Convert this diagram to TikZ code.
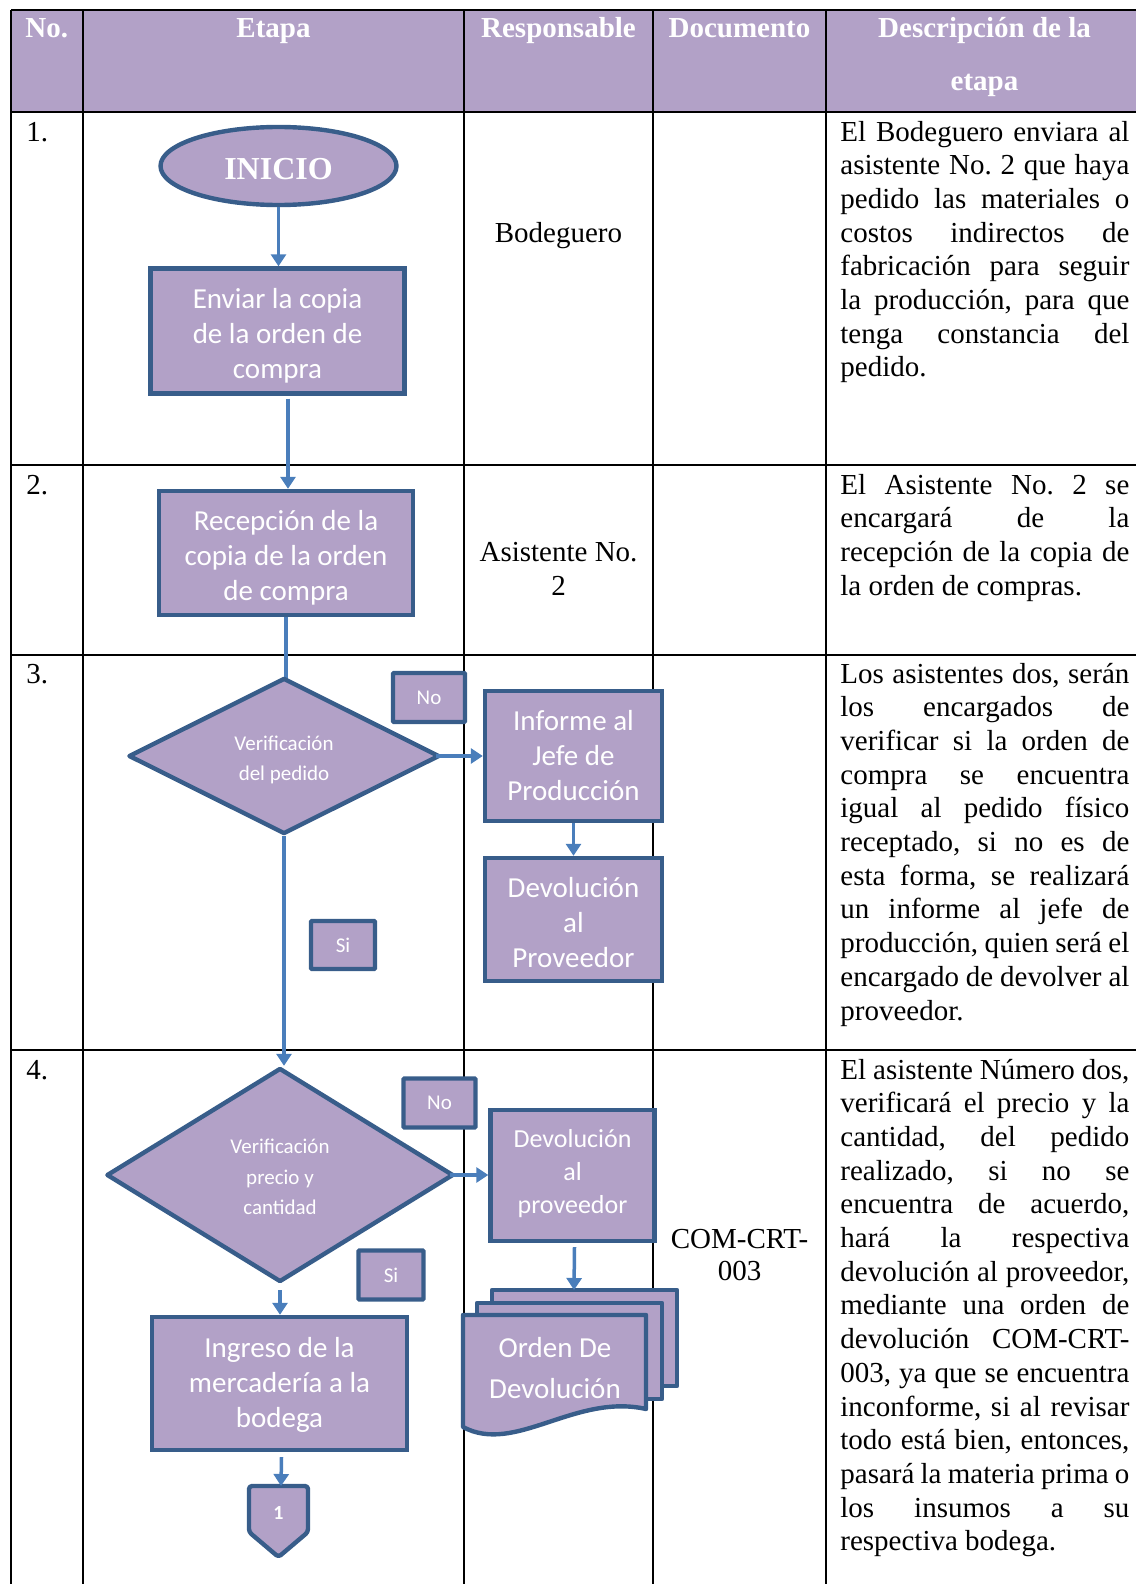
\documentclass[tikz,border=0pt]{standalone}
\usepackage{fontspec}
\setmainfont{Liberation Serif}
\newfontfamily\flowfont{Carlito}
\usetikzlibrary{shapes.geometric,arrows.meta}
\definecolor{shfill}{HTML}{B2A1C7}
\definecolor{shdraw}{HTML}{385D8A}
\definecolor{arrc}{HTML}{4A7EBB}
\newlength\dw \setlength\dw{144.5pt}
\newcommand\jl[1]{\hbox to \dw{#1}}
\newcommand\lastl[1]{\hbox{#1}}
\frenchspacing
\tikzset{
 gridln/.style={line width=1pt, black},
 hdr/.style={font=\bfseries\fontsize{14.5pt}{17pt}\selectfont, text=white, inner sep=0},
 body/.style={font=\fontsize{14.5pt}{16.85pt}\selectfont, inner sep=0},
 proc/.style={draw=shdraw, fill=shfill, line width=2.2pt, text=white, font=\flowfont\fontsize{14.5pt}{17.5pt}\selectfont, align=center, inner sep=0},
 lab/.style={proc, font=\flowfont\fontsize{10.5pt}{12pt}\selectfont, rounded corners=0.5pt},
 dec/.style={diamond, draw=shdraw, fill=shfill, line width=2.2pt, line join=round, text=white, font=\flowfont\fontsize{10.5pt}{15.25pt}\selectfont, align=center, inner sep=0},
 docsh/.style={draw=shdraw, fill=shfill, line width=2.2pt, line join=round},
 flowtxt/.style={text=white, font=\flowfont\fontsize{14.5pt}{17.5pt}\selectfont, align=center, inner sep=0},
 dectxt/.style={text=white, font=\flowfont\fontsize{10.5pt}{15.25pt}\selectfont, align=center, inner sep=0},
 arr/.style={draw=arrc, line width=1.75pt, -{Triangle[length=6pt,width=7.5pt]}},
 plainln/.style={draw=arrc, line width=1.75pt},
}
\begin{document}
\begin{tikzpicture}[x=0.5pt,y=-0.5pt]
\useasboundingbox (0,0) rectangle (1136,1584);
% table
\fill[shfill] (11,10) rectangle (1136,112);
\draw[gridln] (11,10) -- (1136,10);
\foreach \yy in {112,465,655,1050} \draw[gridln] (11,\yy) -- (1136,\yy);
\foreach \xx in {11,83,464,653,826} \draw[gridln] (\xx,10) -- (\xx,1584);
% header
\node[hdr, anchor=base west] (hno) at (25,38) {No.};
\node[hdr, anchor=base] (het) at (273.5,38) {Etapa};
\node[hdr, anchor=base] (hre) at (558.5,38) {Responsable};
\node[hdr, anchor=base] (hdo) at (739.5,38) {Documento};
\node[hdr, anchor=base] (hde1) at (984.5,38) {Descripción de la};
\node[hdr, anchor=base] (hde2) at (984.5,90.5) {etapa};
% numbers
\node[body, anchor=base west] (n1) at (26,141) {1.};
\node[body, anchor=base west] (n2) at (26,494) {2.};
\node[body, anchor=base west] (n3) at (26,683) {3.};
\node[body, anchor=base west] (n4) at (26,1079) {4.};
% responsables
\node[body, anchor=base] (resp1) at (558.5,242.5) {Bodeguero};
\node[body, anchor=base] (resp2a) at (558.5,561) {Asistente No.};
\node[body, anchor=base] (resp2b) at (558.5,595) {2};
\node[body, anchor=base] (docA) at (739.5,1248) {COM-CRT-};
\node[body, anchor=base] (docB) at (739.5,1280) {003};
% descriptions
\node[body, anchor=base west] (desc1) at (840,141) {\vtop{%
\jl{El Bodeguero enviara al}
\jl{asistente No. 2 que haya}
\jl{pedido las materiales o}
\jl{costos indirectos de}
\jl{fabricación para seguir}
\jl{la producción, para que}
\jl{tenga constancia del}
\lastl{pedido.}}};
\node[body, anchor=base west] (desc2) at (840,494) {\vtop{%
\jl{El Asistente No. 2 se}
\jl{encargará de la}
\jl{recepción de la copia de}
\lastl{la orden de compras.}}};
\node[body, anchor=base west] (desc3) at (840,683) {\vtop{%
\jl{Los asistentes dos, serán}
\jl{los encargados de}
\jl{verificar si la orden de}
\jl{compra se encuentra}
\jl{igual al pedido físico}
\jl{receptado, si no es de}
\jl{esta forma, se realizará}
\jl{un informe al jefe de}
\jl{producción, quien será el}
\jl{encargado de devolver al}
\lastl{proveedor.}}};
\node[body, anchor=base west] (desc4) at (840,1079) {\vtop{%
\jl{El asistente Número dos,}
\jl{verificará el precio y la}
\jl{cantidad, del pedido}
\jl{realizado, si no se}
\jl{encuentra de acuerdo,}
\jl{hará la respectiva}
\jl{devolución al proveedor,}
\jl{mediante una orden de}
\jl{devolución COM-CRT-}
\jl{003, ya que se encuentra}
\jl{inconforme, si al revisar}
\jl{todo está bien, entonces,}
\jl{pasará la materia prima o}
\jl{los insumos a su}
\lastl{respectiva bodega.}}};
% flowchart nodes
\node[ellipse, draw=shdraw, fill=shfill, line width=2.2pt, inner sep=0,
  minimum width=118pt, minimum height=39pt] (ini) at (278.5,166) {};
\node[text=white, inner sep=0, font=\bfseries\fontsize{16pt}{18pt}\selectfont] (init) at ([yshift=-1.5pt]ini.center) {INICIO};
\node[proc, minimum width=127pt, minimum height=62.5pt] (r1) at (277.5,331) {};
\node[flowtxt] (r1t) at ([yshift=-2.3pt]r1.center) {Enviar la copia\\de la orden de\\compra};
\node[proc, minimum width=127pt, minimum height=62pt] (r2) at (286,553) {};
\node[flowtxt] (r2t) at ([yshift=-2.5pt]r2.center) {Recepción de la\\copia de la orden\\de compra};
\draw[plainln] (r2.south) -- (r2.south |- 0,685);
\node[dec, minimum width=155.5pt, minimum height=78pt] (d1) at (284,756) {};
\node[dectxt] (d1t) at ([yshift=-2pt]d1.center) {Verificación\\del pedido};
\node[lab, minimum width=36pt, minimum height=24.5pt] (noA) at (429,697.5) {No};
\node[proc, minimum width=88.5pt, minimum height=65pt] (inf) at (573.5,756) {Informe al\\Jefe de\\Producción};
\node[proc, minimum width=88.5pt, minimum height=61.5pt] (dev1) at (573.5,919.5) {};
\node[flowtxt] (dev1t) at ([yshift=-1.5pt]dev1.center) {Devolución\\al\\Proveedor};
\node[lab, minimum width=32pt, minimum height=24pt] (siA) at (343,945) {Si};
\node[dec, minimum width=173.5pt, minimum height=107pt] (d2) at (280,1175) {};
\node[dectxt] (d2t) at ([yshift=-1pt]d2.center) {Verificación\\precio y\\cantidad};
\node[lab, minimum width=36pt, minimum height=24.5pt] (noB) at (439.5,1103) {No};
\node[proc, minimum width=82pt, minimum height=65.5pt] (dev2) at (572.5,1175.5) {};
\node[flowtxt, font=\flowfont\fontsize{13pt}{16.5pt}\selectfont] (dev2t) at ([yshift=1pt]dev2.center) {Devolución\\al\\proveedor};
\node[lab, minimum width=32.5pt, minimum height=24.5pt] (siB) at (391,1275) {Si};
\node[proc, minimum width=127.5pt, minimum height=66.5pt] (ing) at (279.5,1383.5) {};
\node[flowtxt] (ingt) at ([yshift=-0.7pt]ing.center) {Ingreso de la\\mercadería a la\\bodega};
% multi-document
\filldraw[docsh] (492,1290) rectangle (677,1386);
\filldraw[docsh] (477,1303) rectangle (662,1399);
\filldraw[docsh] (463,1315) -- (646,1315) -- (646,1409) .. controls (575,1393) and (515,1455) .. (463,1427) -- cycle;
\node[flowtxt, font=\flowfont\fontsize{14.5pt}{20.5pt}\selectfont] (doc) at (555,1368.5) {Orden De\\Devolución};
\coordinate (doctop) at (574,1290);
% off-page connector
\filldraw[docsh, rounded corners=1.5pt] (249,1486) -- (308,1486) -- (308,1532) -- (278.5,1557) -- (249,1532) -- cycle;
\node[text=white, inner sep=0, font=\flowfont\bfseries\fontsize{10pt}{12pt}\selectfont] (one) at (278.5,1513) {1};
\coordinate (offtop) at (281,1486);
% connectors
\draw[arr] (ini.south) -- (ini.south |- r1.north);
\draw[arr] ([xshift=5.25pt,yshift=-1.5pt]r1.south) -- ([xshift=5.25pt]r1.south |- r2.north);
\draw[arr] ([xshift=-3pt]d1.east) -- (d1.east -| inf.west);
\draw[arr] (inf.south) -- (dev1.north);
\draw[arr] (d1.south) -- (d1.south |- d2.north);
\draw[arr] ([xshift=-3pt]d2.east) -- (d2.east -| dev2.west);
\draw[arr] ([yshift=-3pt]d2.south) -- (d2.south |- ing.north);
\draw[arr] ([xshift=1pt,yshift=-2pt]dev2.south) -- (doctop);
\draw[arr] ([xshift=1pt,yshift=-2.5pt]ing.south) -- (offtop);
\end{tikzpicture}
\end{document}
